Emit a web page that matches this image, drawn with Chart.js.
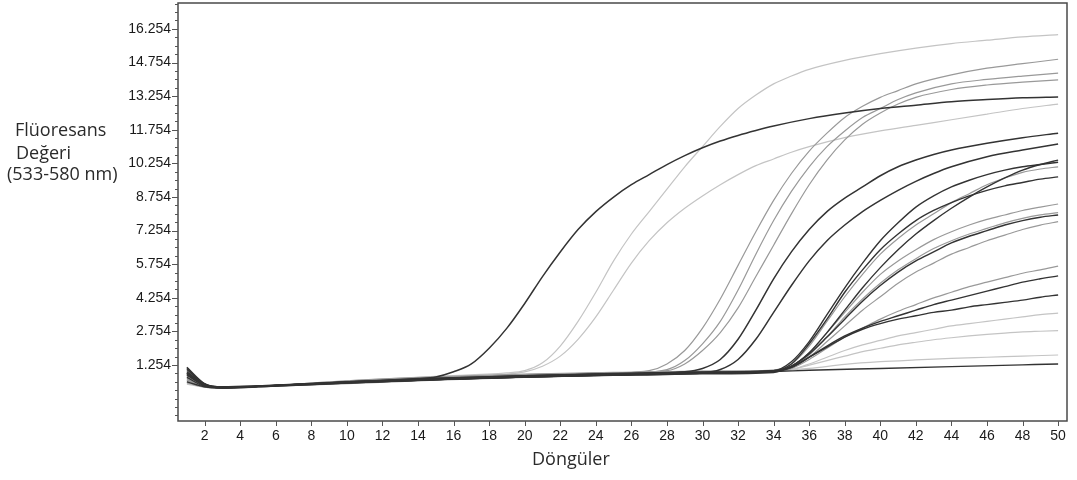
<!DOCTYPE html>
<html>
<head>
<meta charset="utf-8">
<script src="https://cdn.jsdelivr.net/npm/chart.js@4.4.1/dist/chart.umd.min.js"></script>
<style>
  html, body { margin: 0; padding: 0; background: #fff; }
  #wrap { width: 1077px; height: 480px; position: relative; }
</style>
</head>
<body>
<div id="wrap"><canvas id="c"></canvas></div>
<script>
// ---- tick labels / axis text ----
const xTickValues = [2,4,6,8,10,12,14,16,18,20,22,24,26,28,30,32,34,36,38,40,42,44,46,48,50];
const yTickValues = [1.254,2.754,4.254,5.754,7.254,8.754,10.254,11.754,13.254,14.754,16.254];
const yTickLabels = ['1.254','2.754','4.254','5.754','7.254','8.754','10.254','11.754','13.254','14.754','16.254'];
const yTitleLines = ['Flüoresans', 'Değeri', '(533-580 nm)'];
const xTitle = 'Döngüler';

// ---- series: [cycle, fluorescence] ----
const curveA = [[1,0.9],[2,0.35],[3,0.25],[5,0.3],[10,0.5],[14,0.65],[15,0.72],[16,0.95],[17,1.3],[18,2.0],[19,2.9],[20,4.0],[21,5.2],[22,6.3],[23,7.3],[24,8.1],[25,8.75],[26,9.3],[27,9.75],[28,10.2],[29,10.6],[30,10.95],[31,11.25],[32,11.5],[33,11.72],[34,11.92],[36,12.25],[38,12.5],[40,12.7],[42,12.85],[44,13.0],[46,13.1],[48,13.18],[50,13.22]];
const curveL1 = [[1,0.6],[2,0.3],[3,0.22],[5,0.3],[10,0.55],[15,0.75],[19,0.9],[20,1.0],[21,1.35],[22,2.1],[23,3.2],[24,4.5],[25,5.9],[26,7.1],[27,8.1],[28,9.1],[29,10.1],[30,11.0],[31,11.9],[32,12.7],[33,13.3],[34,13.8],[35,14.15],[36,14.45],[38,14.85],[40,15.15],[42,15.4],[44,15.6],[46,15.75],[48,15.9],[50,16.0]];
const curveL2 = [[1,0.8],[2,0.35],[3,0.25],[5,0.3],[10,0.5],[15,0.7],[19,0.85],[20,0.95],[21,1.2],[22,1.65],[23,2.4],[24,3.4],[25,4.6],[26,5.8],[27,6.8],[28,7.6],[29,8.25],[30,8.8],[31,9.3],[32,9.75],[33,10.15],[34,10.45],[35,10.75],[36,11.0],[38,11.4],[40,11.7],[42,11.95],[44,12.2],[46,12.45],[48,12.7],[50,12.9]];
const curveG1 = [[1,1.0],[2,0.4],[3,0.25],[5,0.3],[10,0.5],[15,0.65],[20,0.8],[25,0.9],[27,1.0],[28,1.3],[29,1.9],[30,2.9],[31,4.2],[32,5.7],[33,7.2],[34,8.6],[35,9.8],[36,10.8],[37,11.6],[38,12.3],[39,12.8],[40,13.2],[41,13.5],[42,13.8],[44,14.2],[46,14.5],[48,14.7],[50,14.9]];
const curveG2 = [[1,0.7],[2,0.3],[3,0.23],[5,0.28],[10,0.45],[15,0.6],[20,0.75],[25,0.85],[28,1.05],[29,1.45],[30,2.2],[31,3.2],[32,4.6],[33,6.2],[34,7.7],[35,9.0],[36,10.1],[37,11.0],[38,11.7],[39,12.3],[40,12.7],[41,13.1],[42,13.4],[44,13.8],[46,14.0],[48,14.15],[50,14.28]];
const curveG3 = [[1,0.5],[2,0.28],[3,0.22],[5,0.27],[10,0.48],[15,0.65],[20,0.8],[25,0.9],[28,1.0],[29,1.3],[30,1.9],[31,2.7],[32,3.8],[33,5.2],[34,6.6],[35,8.0],[36,9.3],[37,10.4],[38,11.3],[39,12.0],[40,12.5],[41,12.9],[42,13.2],[44,13.55],[46,13.75],[48,13.88],[50,13.98]];
const curveD1 = [[1,0.85],[2,0.35],[3,0.25],[5,0.3],[10,0.45],[15,0.6],[20,0.75],[25,0.85],[29,0.95],[30,1.1],[31,1.5],[32,2.4],[33,3.7],[34,5.1],[35,6.3],[36,7.3],[37,8.1],[38,8.7],[39,9.2],[40,9.7],[41,10.1],[42,10.4],[43,10.65],[44,10.85],[46,11.15],[48,11.4],[50,11.6]];
const curveD2 = [[1,1.1],[2,0.4],[3,0.28],[5,0.32],[10,0.5],[15,0.62],[20,0.72],[25,0.8],[30,0.9],[31,1.05],[32,1.5],[33,2.4],[34,3.6],[35,4.8],[36,5.9],[37,6.8],[38,7.5],[39,8.1],[40,8.6],[41,9.05],[42,9.45],[43,9.8],[44,10.1],[46,10.55],[48,10.85],[50,11.12]];
const curveB1 = [[1,0.95],[2,0.38],[3,0.24],[5,0.3],[10,0.5],[15,0.65],[20,0.78],[25,0.85],[30,0.9],[34,1.0],[35,1.4],[36,2.3],[37,3.5],[38,4.7],[39,5.8],[40,6.8],[41,7.6],[42,8.3],[43,8.8],[44,9.2],[45,9.5],[46,9.75],[47,9.95],[48,10.1],[49,10.2],[50,10.3]];
const curveB2 = [[1,0.65],[2,0.3],[3,0.23],[5,0.29],[10,0.52],[15,0.7],[20,0.82],[25,0.9],[30,0.97],[34,1.03],[35,1.3],[36,2.1],[37,3.2],[38,4.3],[39,5.3],[40,6.2],[41,6.9],[42,7.5],[43,8.0],[44,8.5],[45,8.9],[46,9.3],[47,9.6],[48,9.85],[49,10.0],[50,10.1]];
const curveB3 = [[1,0.9],[2,0.36],[3,0.26],[5,0.31],[10,0.46],[15,0.6],[20,0.74],[25,0.83],[30,0.9],[34,0.98],[35,1.3],[36,2.2],[37,3.3],[38,4.5],[39,5.5],[40,6.4],[41,7.1],[42,7.7],[43,8.15],[44,8.5],[45,8.8],[46,9.05],[47,9.25],[48,9.4],[49,9.55],[50,9.65]];
const curveB4 = [[1,1.15],[2,0.42],[3,0.27],[5,0.3],[10,0.49],[15,0.63],[20,0.76],[25,0.86],[30,0.93],[34,1.0],[35,1.2],[36,1.8],[37,2.7],[38,3.7],[39,4.7],[40,5.6],[41,6.4],[42,7.1],[43,7.7],[44,8.25],[45,8.75],[46,9.2],[47,9.6],[48,9.95],[49,10.2],[50,10.4]];
const curveB5 = [[1,0.75],[2,0.33],[3,0.24],[5,0.3],[10,0.55],[15,0.72],[20,0.85],[25,0.92],[30,0.98],[34,1.02],[35,1.2],[36,1.8],[37,2.7],[38,3.6],[39,4.5],[40,5.3],[41,5.9],[42,6.4],[43,6.85],[44,7.2],[45,7.5],[46,7.75],[47,7.95],[48,8.15],[49,8.3],[50,8.44]];
const curveB6 = [[1,0.55],[2,0.3],[3,0.22],[5,0.28],[10,0.42],[15,0.58],[20,0.7],[25,0.8],[30,0.88],[34,0.95],[35,1.15],[36,1.7],[37,2.5],[38,3.4],[39,4.2],[40,4.9],[41,5.5],[42,6.0],[43,6.45],[44,6.8],[45,7.1],[46,7.35],[47,7.6],[48,7.8],[49,7.95],[50,8.05]];
const curveB7 = [[1,0.7],[2,0.3],[3,0.24],[5,0.3],[10,0.48],[15,0.6],[20,0.72],[25,0.8],[30,0.86],[34,0.92],[35,1.2],[36,1.75],[37,2.5],[38,3.3],[39,4.1],[40,4.8],[41,5.4],[42,5.9],[43,6.3],[44,6.7],[45,7.0],[46,7.25],[47,7.5],[48,7.7],[49,7.85],[50,7.95]];
const curveB8 = [[1,0.6],[2,0.28],[3,0.23],[5,0.3],[10,0.52],[15,0.68],[20,0.8],[25,0.9],[30,0.95],[34,1.0],[35,1.1],[36,1.6],[37,2.3],[38,3.0],[39,3.7],[40,4.3],[41,4.9],[42,5.4],[43,5.8],[44,6.2],[45,6.5],[46,6.8],[47,7.05],[48,7.3],[49,7.5],[50,7.65]];
const curveB9 = [[1,0.45],[2,0.26],[3,0.22],[5,0.28],[10,0.46],[15,0.62],[20,0.74],[25,0.84],[30,0.9],[34,0.96],[35,1.1],[36,1.5],[37,2.0],[38,2.5],[39,2.9],[40,3.3],[41,3.65],[42,3.95],[43,4.25],[44,4.5],[45,4.75],[46,4.95],[47,5.15],[48,5.35],[49,5.5],[50,5.67]];
const curveB10 = [[1,1.05],[2,0.4],[3,0.26],[5,0.3],[10,0.5],[15,0.66],[20,0.78],[25,0.88],[30,0.94],[34,1.0],[35,1.15],[36,1.6],[37,2.1],[38,2.55],[39,2.9],[40,3.2],[41,3.45],[42,3.7],[43,3.95],[44,4.15],[45,4.35],[46,4.55],[47,4.75],[48,4.95],[49,5.1],[50,5.23]];
const curveB11 = [[1,0.8],[2,0.34],[3,0.25],[5,0.3],[10,0.47],[15,0.6],[20,0.72],[25,0.82],[30,0.9],[34,0.96],[35,1.15],[36,1.6],[37,2.05],[38,2.5],[39,2.85],[40,3.1],[41,3.3],[42,3.45],[43,3.6],[44,3.7],[45,3.85],[46,3.95],[47,4.05],[48,4.15],[49,4.28],[50,4.38]];
const curveB12 = [[1,0.6],[2,0.3],[3,0.24],[5,0.3],[10,0.5],[15,0.68],[20,0.82],[25,0.9],[30,0.96],[34,1.0],[35,1.05],[36,1.3],[37,1.6],[38,1.9],[39,2.15],[40,2.35],[41,2.55],[42,2.7],[43,2.85],[44,3.0],[45,3.1],[46,3.2],[47,3.3],[48,3.4],[49,3.5],[50,3.57]];
const curveB13 = [[1,0.4],[2,0.26],[3,0.22],[5,0.29],[10,0.5],[15,0.66],[20,0.8],[25,0.88],[30,0.95],[34,1.0],[35,1.05],[36,1.25],[37,1.45],[38,1.65],[39,1.85],[40,2.0],[41,2.15],[42,2.27],[43,2.38],[44,2.47],[45,2.55],[46,2.62],[47,2.68],[48,2.73],[49,2.76],[50,2.79]];
const curveB14 = [[1,0.55],[2,0.29],[3,0.23],[5,0.3],[10,0.52],[15,0.7],[20,0.82],[25,0.9],[30,0.96],[34,1.0],[36,1.1],[38,1.28],[40,1.4],[42,1.48],[44,1.55],[46,1.6],[48,1.65],[50,1.7]];
const curveB15 = [[1,0.5],[2,0.28],[3,0.23],[5,0.28],[10,0.45],[15,0.6],[20,0.72],[25,0.82],[30,0.9],[34,0.96],[36,1.02],[40,1.1],[44,1.18],[48,1.26],[50,1.3]];

// ---- styles ----
const DARK = '#333333', MID = '#999999', LIGHT = '#c4c4c4';
const seriesList = [
  [curveA, DARK, 1.5], [curveD1, DARK, 1.5], [curveD2, DARK, 1.5],
  [curveB1, DARK, 1.4], [curveB3, DARK, 1.4], [curveB4, DARK, 1.4], [curveB7, DARK, 1.4],
  [curveB10, DARK, 1.4], [curveB11, DARK, 1.4], [curveB15, DARK, 1.4],
  [curveG1, MID, 1.2], [curveG2, MID, 1.2], [curveG3, MID, 1.2],
  [curveB2, MID, 1.2], [curveB5, MID, 1.2], [curveB6, MID, 1.2], [curveB8, MID, 1.2], [curveB9, MID, 1.2],
  [curveL1, LIGHT, 1.2], [curveL2, LIGHT, 1.2], [curveB12, LIGHT, 1.2], [curveB13, LIGHT, 1.2], [curveB14, LIGHT, 1.2]
];

const datasets = seriesList.map(([arr, col, w]) => ({
  data: arr.map(p => ({ x: p[0], y: p[1] })),
  borderColor: col,
  borderWidth: w,
  pointRadius: 0,
  fill: false,
  cubicInterpolationMode: 'monotone'
}));

const TICK_FONT = { family: 'Liberation Sans, Arial, sans-serif', size: 14 };

const framePlugin = {
  id: 'frame',
  beforeDatasetsDraw(chart) {
    const { ctx, chartArea: a } = chart;
    ctx.save();
    ctx.strokeStyle = '#4a4a4a';
    ctx.lineWidth = 1.5;
    ctx.strokeRect(a.left, a.top, a.right - a.left, a.bottom - a.top);
    ctx.restore();
  },
  afterDraw(chart) {
    const { ctx, chartArea: a, scales } = chart;
    const ys = scales.y, xs = scales.x;
    ctx.save();
    ctx.strokeStyle = '#555';
    ctx.lineWidth = 1;
    const step = (yTickValues[1] - yTickValues[0]) / 4;
    ctx.beginPath();
    for (let k = -8; k <= 50; k++) {
      const v = yTickValues[0] + k * step;
      if (v < ys.min || v > ys.max) continue;
      const py = Math.round(ys.getPixelForValue(v)) + 0.5;
      const len = (k % 4 === 0 && k >= 0 && k <= 40) ? 6 : 3;
      ctx.moveTo(a.left - len, py);
      ctx.lineTo(a.left, py);
    }
    xTickValues.forEach(v => {
      const px = Math.round(xs.getPixelForValue(v)) + 0.5;
      ctx.moveTo(px, a.bottom);
      ctx.lineTo(px, a.bottom + 5);
    });
    ctx.stroke();
    ctx.fillStyle = '#2a2a2a';
    ctx.font = '18px "Open Sans", sans-serif';
    ctx.textAlign = 'left';
    ctx.textBaseline = 'alphabetic';
    ctx.fillText(yTitleLines[0], 15, 136);
    ctx.fillText(yTitleLines[1], 16, 159);
    ctx.fillText(yTitleLines[2], 7, 180);
    ctx.fillText(xTitle, 532, 465);
    ctx.restore();
  }
};

new Chart(document.getElementById('c'), {
  type: 'line',
  data: { datasets },
  options: {
    responsive: true,
    maintainAspectRatio: false,
    animation: false,
    layout: { padding: { left: 0, right: 10, top: 3, bottom: 0 } },
    plugins: { legend: { display: false }, tooltip: { enabled: false } },
    elements: { line: { tension: 0 } },
    scales: {
      x: {
        type: 'linear',
        min: 0.5, max: 50.5,
        grid: { display: false, drawTicks: false },
        border: { display: false },
        afterBuildTicks: s => { s.ticks = xTickValues.map(v => ({ value: v })); },
        afterFit: s => { s.height = 59; s.paddingLeft = 0; s.paddingRight = 0; },
        ticks: { font: TICK_FONT, color: '#1a1a1a', padding: 7, maxRotation: 0, autoSkip: false,
                 callback: v => String(v) }
      },
      y: {
        type: 'linear',
        min: -1.246, max: 17.41,
        grid: { display: false, drawTicks: false },
        border: { display: false },
        afterBuildTicks: s => { s.ticks = yTickValues.map(v => ({ value: v })); },
        afterFit: s => { s.width = 178; s.paddingTop = 0; s.paddingBottom = 0; },
        ticks: { font: TICK_FONT, color: '#1a1a1a', padding: 7, autoSkip: false,
                 callback: (v, i) => yTickLabels[i] }
      }
    }
  },
  plugins: [framePlugin]
});
</script>
</body>
</html>
